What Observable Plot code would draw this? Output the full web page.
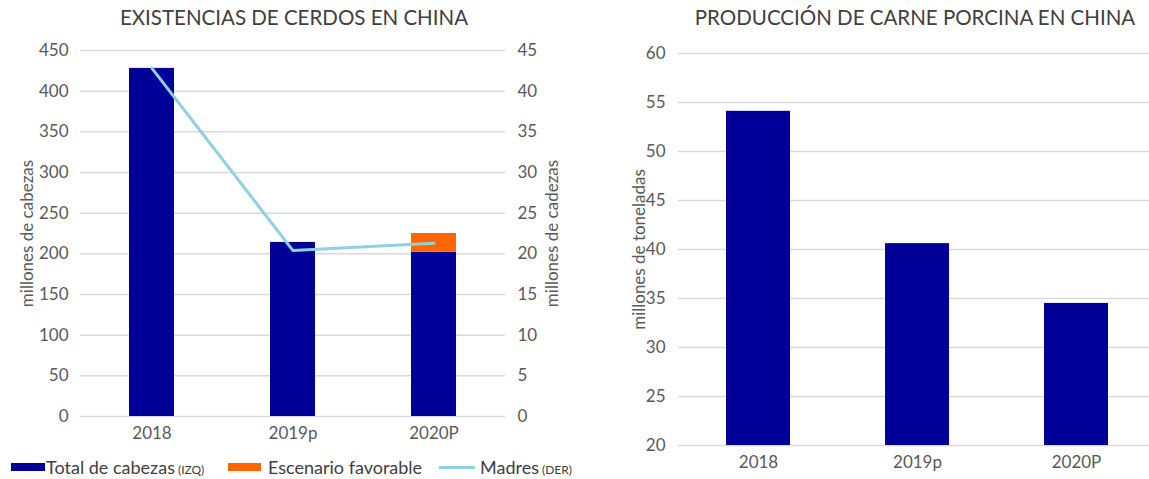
<!DOCTYPE html>
<html>
<head>
<meta charset="utf-8">
<script src="https://cdn.jsdelivr.net/npm/d3@7"></script>
<script src="https://cdn.jsdelivr.net/npm/@observablehq/plot@0.6"></script>
<style>
  body { margin: 0; background: #fff; font-family: Lato, "Open Sans", sans-serif; }
  #wrap { position: relative; width: 1149px; height: 479px; overflow: hidden; background: #fff; }
  .chart { position: absolute; top: 0; }
  .title { position: absolute; top: 5px; font-size: 20.5px; color: #404040; white-space: nowrap; transform: translateX(-50%); }
  .legend { position: absolute; top: 455px; left: 0; height: 24px; font-size: 18px; color: #404040; }
  .item { position: absolute; top: 0; white-space: nowrap; line-height: 24px; }
  .sw { position: absolute; }
  .small { font-size: 12px; }
</style>
</head>
<body>
<div id="wrap">
  <div class="chart" id="left" style="left:0"></div>
  <div class="chart" id="right" style="left:600px"></div>
  <div class="title" style="left:294px">EXISTENCIAS DE CERDOS EN CHINA</div>
  <div class="title" style="left:915px">PRODUCCIÓN DE CARNE PORCINA EN CHINA</div>
  <div class="legend" id="legend"></div>
</div>
<script>
// ---- data ----
const years = ["2018", "2019p", "2020P"];
const totalCabezas = [428, 214, 202];          // millones de cabezas (IZQ)
const escenarioFavorable = [null, null, 225];   // tope del escenario favorable
const madres = [42.8, 20.4, 21.3];              // millones de cabezas (DER)
const produccion = [54.1, 40.6, 34.5];          // millones de toneladas

const leftTicks = [0, 50, 100, 150, 200, 250, 300, 350, 400, 450];
const rightRatio = 10; // eje derecho 0-45 vs izquierdo 0-450
const prodTicks = [20, 25, 30, 35, 40, 45, 50, 55, 60];

const legendLabels = [
  {text: "Total de cabezas", small: " (IZQ)"},
  {text: "Escenario favorable", small: ""},
  {text: "Madres", small: " (DER)"}
];

const navy = "#000099", orange = "#ff6600", light = "#8fd0e3", grid = "#d9d9d9", tickColor = "#595959";

const leftData = years.map((y, i) => ({year: y, total: totalCabezas[i], fav: escenarioFavorable[i], madres: madres[i]}));
const favData = leftData.filter(d => d.fav != null);
const prodData = years.map((y, i) => ({year: y, value: produccion[i]}));

const fontStyle = {fontFamily: "Lato, 'Open Sans', sans-serif", fontSize: "17px", color: tickColor, background: "transparent"};

const left = Plot.plot({
  width: 600, height: 450,
  marginTop: 50, marginBottom: 34, marginLeft: 80, marginRight: 95,
  style: fontStyle,
  x: {domain: years, paddingInner: 0.68, paddingOuter: 0.34, label: null},
  y: {domain: [0, 450], label: null},
  marks: [
    Plot.gridY(leftTicks, {stroke: grid, strokeOpacity: 1, strokeWidth: 1.5}),
    Plot.barY(leftData, {x: "year", y: "total", fill: navy}),
    Plot.barY(favData, {x: "year", y1: "total", y2: "fav", fill: orange}),
    Plot.line(leftData, {x: "year", y: d => d.madres * rightRatio, stroke: light, strokeWidth: 3}),
    Plot.axisY(leftTicks, {anchor: "left", tickSize: 0, tickPadding: 12, label: "millones de cabezas", labelArrow: "none", labelAnchor: "center", labelOffset: 60, fontSize: 17}),
    Plot.axisY(leftTicks, {anchor: "right", tickSize: 0, tickPadding: 12, tickFormat: d => d / rightRatio, label: "millones de cadezas", labelArrow: "none", labelAnchor: "center", labelOffset: 52}),
    Plot.axisX({tickSize: 0, tickPadding: 10, label: null})
  ]
});
document.getElementById("left").appendChild(left);

const right = Plot.plot({
  width: 549, height: 480,
  marginTop: 53, marginBottom: 35, marginLeft: 78, marginRight: 0,
  style: fontStyle,
  x: {domain: years, range: [78, 556], paddingInner: 0.6, paddingOuter: 0.3, label: null},
  y: {domain: [prodTicks[0], prodTicks[prodTicks.length - 1]], label: null},
  marks: [
    Plot.gridY(prodTicks, {stroke: grid, strokeOpacity: 1, strokeWidth: 1.5}),
    Plot.barY(prodData, {x: "year", y1: prodTicks[0], y2: "value", fill: navy}),
    Plot.axisY(prodTicks, {anchor: "left", tickSize: 0, tickPadding: 13, label: "millones de toneladas", labelArrow: "none", labelAnchor: "center", labelOffset: 46}),
    Plot.axisX({tickSize: 0, tickPadding: 10, label: null})
  ]
});
document.getElementById("right").appendChild(right);

// legend
const legend = document.getElementById("legend");
const swatches = [
  {x: 11, w: 34, h: 8, color: navy, tx: 46},
  {x: 228, w: 33, h: 8, color: orange, tx: 268},
  {x: 439, w: 36, h: 3, color: light, tx: 480}
];
swatches.forEach((s, i) => {
  const sw = document.createElement("div");
  sw.className = "sw";
  sw.style.left = s.x + "px";
  sw.style.top = (12 - s.h / 2) + "px";
  sw.style.width = s.w + "px";
  sw.style.height = s.h + "px";
  sw.style.background = s.color;
  legend.appendChild(sw);
  const it = document.createElement("div");
  it.className = "item";
  it.style.left = s.tx + "px";
  it.textContent = legendLabels[i].text;
  if (legendLabels[i].small) {
    const sm = document.createElement("span");
    sm.className = "small";
    sm.textContent = legendLabels[i].small;
    it.appendChild(sm);
  }
  legend.appendChild(it);
});
</script>
</body>
</html>
